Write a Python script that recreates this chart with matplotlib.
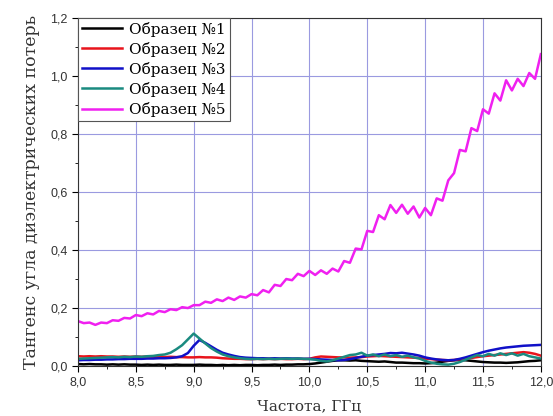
import matplotlib
matplotlib.use('Agg')
import matplotlib.pyplot as plt
import numpy as np
from matplotlib.ticker import MultipleLocator, FuncFormatter

freq = np.linspace(8.0, 12.0, 81)

s1 = [0.007, 0.006, 0.007, 0.006, 0.006, 0.005, 0.006, 0.005, 0.006, 0.005,
      0.005, 0.004, 0.005, 0.004, 0.005, 0.004, 0.004, 0.005, 0.004, 0.004,
      0.004, 0.005, 0.004, 0.004, 0.003, 0.004, 0.003, 0.004, 0.003, 0.004,
      0.004, 0.003, 0.004, 0.004, 0.005, 0.004, 0.005, 0.005, 0.006, 0.006,
      0.007, 0.009, 0.012, 0.015, 0.018, 0.020, 0.020, 0.019, 0.020, 0.018,
      0.017, 0.016, 0.015, 0.016, 0.014, 0.012, 0.012, 0.011, 0.010, 0.010,
      0.009, 0.010, 0.012, 0.015, 0.018, 0.020, 0.021, 0.020, 0.018, 0.016,
      0.014, 0.013, 0.012, 0.012, 0.011, 0.012, 0.013, 0.015, 0.017, 0.018, 0.020]

s2 = [0.034, 0.033, 0.034, 0.033, 0.034, 0.033, 0.033, 0.032, 0.033, 0.032,
      0.033, 0.032, 0.033, 0.032, 0.032, 0.031, 0.032, 0.031, 0.031, 0.030,
      0.030, 0.031, 0.030, 0.030, 0.029, 0.027, 0.026, 0.025, 0.025, 0.024,
      0.024, 0.025, 0.024, 0.025, 0.024, 0.025, 0.024, 0.024, 0.025, 0.024,
      0.025, 0.030, 0.033, 0.032, 0.031, 0.030, 0.030, 0.029, 0.030, 0.031,
      0.033, 0.034, 0.035, 0.034, 0.033, 0.032, 0.031, 0.030, 0.029, 0.028,
      0.026, 0.024, 0.022, 0.021, 0.020, 0.021, 0.023, 0.025, 0.028, 0.031,
      0.034, 0.036, 0.038, 0.040, 0.042, 0.044, 0.046, 0.048, 0.046, 0.042, 0.036]

s3 = [0.020, 0.021, 0.021, 0.022, 0.022, 0.023, 0.023, 0.024, 0.024, 0.025,
      0.025, 0.025, 0.026, 0.026, 0.027, 0.027, 0.028, 0.030, 0.034, 0.045,
      0.070, 0.090, 0.080, 0.068, 0.056, 0.046, 0.040, 0.035, 0.031, 0.029,
      0.028, 0.027, 0.027, 0.026, 0.027, 0.026, 0.027, 0.026, 0.026, 0.025,
      0.025, 0.024, 0.023, 0.022, 0.021, 0.020, 0.021, 0.024, 0.028, 0.032,
      0.036, 0.038, 0.040, 0.042, 0.045, 0.044, 0.046, 0.043, 0.040, 0.036,
      0.030, 0.026, 0.023, 0.021, 0.020, 0.021, 0.025, 0.030, 0.036, 0.042,
      0.048, 0.053, 0.057, 0.061, 0.064, 0.066, 0.068, 0.070, 0.071, 0.072, 0.073]

s4 = [0.025, 0.026, 0.027, 0.028, 0.029, 0.030, 0.031, 0.030, 0.032, 0.031,
      0.033, 0.032, 0.034, 0.035, 0.038, 0.040, 0.046, 0.058, 0.072, 0.092,
      0.112, 0.095, 0.078, 0.062, 0.050, 0.040, 0.034, 0.030, 0.027, 0.025,
      0.024, 0.025, 0.024, 0.025, 0.024, 0.025, 0.026, 0.025, 0.026, 0.025,
      0.024, 0.022, 0.018, 0.016, 0.020, 0.026, 0.032, 0.038, 0.040, 0.046,
      0.036, 0.040, 0.034, 0.040, 0.034, 0.038, 0.032, 0.036, 0.030, 0.026,
      0.018, 0.012, 0.008, 0.006, 0.005, 0.008, 0.014, 0.022, 0.030, 0.038,
      0.034, 0.042, 0.036, 0.044, 0.038, 0.044, 0.036, 0.042, 0.034, 0.030, 0.026]

s5 = [0.155, 0.148, 0.150, 0.142, 0.150, 0.148, 0.158, 0.156, 0.166, 0.164,
      0.176, 0.172, 0.182, 0.178, 0.190, 0.186, 0.196, 0.193, 0.203, 0.200,
      0.210, 0.210, 0.222, 0.218, 0.230, 0.224, 0.236, 0.228, 0.240, 0.236,
      0.248, 0.244, 0.262, 0.254, 0.280, 0.276, 0.300, 0.296, 0.318, 0.310,
      0.328, 0.314, 0.330, 0.318, 0.336, 0.326, 0.362, 0.356, 0.405, 0.402,
      0.466, 0.462, 0.520, 0.506, 0.555, 0.528, 0.556, 0.525, 0.550, 0.512,
      0.545, 0.520, 0.578, 0.570, 0.640, 0.665, 0.745, 0.740, 0.820, 0.810,
      0.885, 0.870, 0.940, 0.915, 0.985, 0.950, 0.990, 0.965, 1.010, 0.990, 1.075]

labels = ['Образец №1', 'Образец №2', 'Образец №3', 'Образец №4', 'Образец №5']
colors = ['#000000', '#e8141c', '#1010c8', '#1a8a80', '#f020f0']

fig = plt.figure(figsize=(5.53, 4.16), dpi=100)
ax = fig.add_axes([0.141, 0.120, 0.837, 0.837])

for s, lab, c in zip([s1, s2, s3, s4, s5], labels, colors):
    ax.plot(freq, s, color=c, lw=1.8, label=lab)

ax.set_xlim(8.0, 12.0)
ax.set_ylim(0.0, 1.2)
ax.xaxis.set_major_locator(MultipleLocator(0.5))
ax.xaxis.set_minor_locator(MultipleLocator(0.25))
ax.yaxis.set_major_locator(MultipleLocator(0.2))
ax.yaxis.set_minor_locator(MultipleLocator(0.1))
comma = FuncFormatter(lambda v, p: f'{v:.1f}'.replace('.', ','))
ax.xaxis.set_major_formatter(comma)
ax.yaxis.set_major_formatter(comma)
ax.tick_params(which='both', direction='out', labelsize=9, labelcolor='#333333')
ax.tick_params(which='major', length=4)
ax.tick_params(which='minor', length=2.5)
for lab in ax.get_xticklabels() + ax.get_yticklabels():
    lab.set_family('Liberation Sans')
ax.grid(True, which='major', color='#9a9ae0', lw=0.8)
for sp in ax.spines.values():
    sp.set_color('#333333')

ax.set_xlabel('Частота, ГГц', family='DejaVu Serif', fontsize=11, labelpad=8, color='#333333')
ax.set_ylabel('Тангенс угла диэлектрических потерь', family='DejaVu Serif', fontsize=12.5,
              labelpad=7, color='#333333')

leg = ax.legend(loc='upper left', borderaxespad=0, fancybox=False, framealpha=1,
                edgecolor='#555555', prop={'family': 'DejaVu Serif', 'size': 11},
                handlelength=2.6, labelspacing=0.33, borderpad=0.25, handletextpad=0.5)
leg.get_frame().set_linewidth(0.8)

fig.savefig('out.png', dpi=100)
